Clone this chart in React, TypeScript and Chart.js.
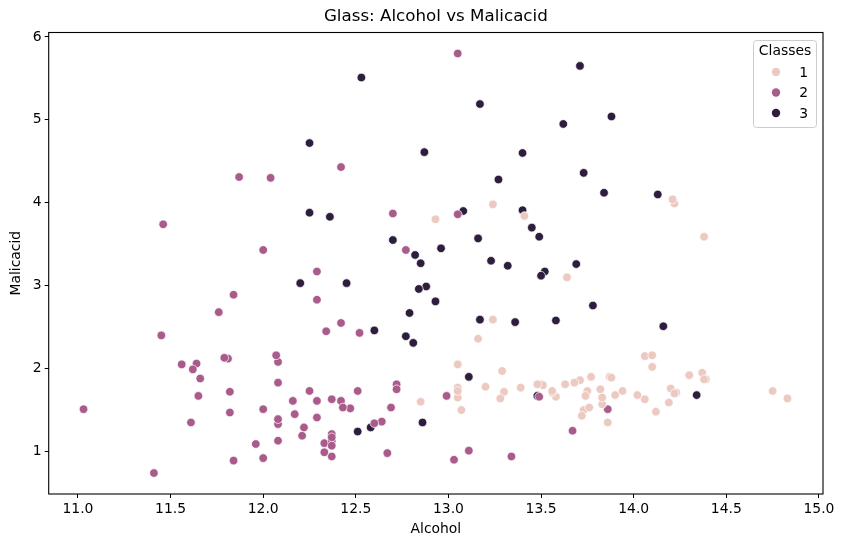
import { useEffect, useRef } from "react";
import { Chart, registerables, Plugin } from "chart.js";

Chart.register(...registerables);

const classLabels = ["1", "2", "3"];
const classColors = ["#ecc9c1", "#a95c8c", "#2d1e3e"];

const alcohol1 = [
  14.23, 13.2, 13.16, 14.37, 13.24, 14.2, 14.39, 14.06, 14.83, 13.86, 14.1, 14.12, 13.75, 14.75, 14.38,
  13.63, 14.3, 13.83, 14.19, 13.64, 14.06, 12.93, 13.71, 12.85, 13.5, 13.05, 13.39, 13.3, 13.87, 14.02,
  13.73, 13.58, 13.68, 13.76, 13.51, 13.48, 13.28, 13.05, 13.07, 14.22, 13.56, 13.41, 13.88, 13.24, 13.05,
  14.21, 14.38, 13.9, 14.1, 13.94, 13.05, 13.83, 13.82, 13.77, 13.74, 13.56, 14.22, 13.29, 13.72,
];
const malic1 = [
  1.71, 1.78, 2.36, 1.95, 2.59, 1.76, 1.87, 2.15, 1.64, 1.35, 2.16, 1.48, 1.73, 1.73, 1.87,
  1.81, 1.92, 1.57, 1.59, 3.1, 1.63, 3.8, 1.86, 1.6, 1.81, 2.05, 1.77, 1.72, 1.9, 1.68,
  1.5, 1.66, 1.83, 1.53, 1.8, 1.81, 1.64, 1.65, 1.5, 3.99, 1.71, 3.84, 1.89, 3.98, 1.77,
  4.04, 3.59, 1.68, 2.02, 1.73, 1.73, 1.65, 1.75, 1.9, 1.67, 1.73, 1.7, 1.97, 1.43,
];

const alcohol2 = [
  12.37, 12.33, 12.64, 13.67, 12.37, 12.17, 12.37, 13.11, 12.37, 13.34, 12.21, 12.29, 13.86, 13.49, 12.99,
  11.96, 11.66, 13.03, 11.84, 12.33, 12.7, 12.0, 12.72, 12.08, 13.05, 11.84, 12.67, 12.16, 11.65, 11.64,
  12.08, 12.08, 12.0, 12.69, 12.29, 11.62, 12.47, 11.81, 12.29, 12.37, 12.29, 12.08, 12.6, 12.34, 11.82,
  12.51, 12.42, 12.25, 12.72, 12.22, 11.61, 11.46, 12.52, 11.76, 11.41, 12.08, 11.03, 11.82, 12.42, 12.77,
  12.0, 11.45, 11.56, 12.42, 13.05, 11.87, 12.07, 12.43, 11.79, 12.37, 12.04,
];
const malic2 = [
  0.94, 1.1, 1.36, 1.25, 1.13, 1.45, 1.21, 1.01, 1.17, 0.94, 1.19, 1.61, 1.51, 1.66, 1.67,
  1.09, 1.88, 0.9, 2.89, 0.99, 3.87, 0.92, 1.81, 1.13, 3.86, 0.89, 0.98, 1.61, 1.67, 2.06,
  1.33, 1.83, 1.51, 1.53, 2.83, 1.99, 1.52, 2.12, 1.41, 1.07, 3.17, 2.08, 1.34, 2.45, 1.72,
  1.73, 2.55, 1.73, 1.75, 1.29, 1.35, 3.74, 2.43, 2.68, 0.74, 1.39, 1.51, 1.47, 1.61, 3.43,
  3.43, 2.4, 2.05, 4.43, 5.8, 4.31, 2.16, 1.53, 2.13, 1.63, 4.3,
];

const alcohol3 = [
  12.86, 12.88, 12.81, 12.7, 12.51, 12.6, 12.25, 12.53, 13.49, 12.84, 12.93, 13.36, 13.52, 13.62, 12.25,
  13.16, 13.88, 12.87, 13.32, 13.08, 13.5, 12.79, 13.11, 13.23, 12.58, 13.17, 13.84, 12.45, 14.34, 13.48,
  12.36, 13.69, 12.85, 12.96, 13.78, 13.73, 13.45, 12.82, 13.58, 13.4, 12.2, 12.77, 14.16, 13.71, 13.4,
  13.27, 13.17, 14.13,
];
const malic3 = [
  1.35, 2.99, 2.31, 3.55, 1.24, 2.46, 4.72, 5.51, 3.59, 2.96, 2.81, 2.56, 3.17, 4.95, 3.88,
  3.57, 5.04, 4.61, 3.24, 3.9, 3.12, 2.67, 1.9, 3.3, 1.29, 5.19, 4.12, 3.03, 1.68, 1.67,
  3.83, 3.26, 3.27, 3.45, 2.76, 4.36, 3.7, 3.37, 2.58, 4.6, 3.03, 2.39, 2.51, 5.65, 3.91,
  4.28, 2.59, 4.1,
];

const xTicks = [11.0, 11.5, 12.0, 12.5, 13.0, 13.5, 14.0, 14.5, 15.0];
const yTicks = [1, 2, 3, 4, 5, 6];

const FONT = "'DejaVu Sans', sans-serif";

function toPoints(xs: number[], ys: number[]) {
  return xs.map((x, i) => ({ x, y: ys[i] }));
}

const framePlugin: Plugin<"scatter"> = {
  id: "frame",
  afterDraw(chart) {
    const { ctx, chartArea: a } = chart;
    ctx.save();
    ctx.strokeStyle = "#000";
    ctx.lineWidth = 1.1;
    ctx.strokeRect(a.left, a.top, a.right - a.left, a.bottom - a.top);

    // title
    ctx.fillStyle = "#000";
    ctx.font = `16.7px ${FONT}`;
    ctx.textAlign = "center";
    ctx.textBaseline = "middle";
    ctx.fillText("Glass: Alcohol vs Malicacid", (a.left + a.right) / 2, 17);

    // legend
    const lx = 753;
    const ly = 40;
    const lw = 63;
    const lh = 87;
    ctx.fillStyle = "rgba(255,255,255,0.8)";
    ctx.strokeStyle = "#cccccc";
    ctx.lineWidth = 1;
    ctx.beginPath();
    ctx.roundRect(lx + 0.5, ly + 0.5, lw, lh, 3);
    ctx.fill();
    ctx.stroke();
    ctx.fillStyle = "#000";
    ctx.font = `13.9px ${FONT}`;
    ctx.textAlign = "center";
    ctx.fillText("Classes", lx + lw / 2 + 0.5, 51);
    classLabels.forEach((lab, i) => {
      const y = 72 + i * 20.5;
      ctx.beginPath();
      ctx.arc(776, y, 4.2, 0, Math.PI * 2);
      ctx.fillStyle = classColors[i];
      ctx.fill();
      ctx.fillStyle = "#000";
      ctx.textAlign = "right";
      ctx.fillText(lab, 808, y + 1);
    });
    ctx.restore();
  },
};

export default function App() {
  const canvasRef = useRef<HTMLCanvasElement | null>(null);
  const chartRef = useRef<Chart<"scatter"> | null>(null);

  useEffect(() => {
    document.body.style.margin = "0";
    const canvas = canvasRef.current;
    if (!canvas) {
      return;
    }

    const series = [
      toPoints(alcohol1, malic1),
      toPoints(alcohol2, malic2),
      toPoints(alcohol3, malic3),
    ];

    chartRef.current?.destroy();
    chartRef.current = new Chart(canvas, {
      type: "scatter",
      data: {
        datasets: series.map((data, i) => ({
          label: classLabels[i],
          data,
          backgroundColor: classColors[i],
          borderColor: "#ffffff",
          borderWidth: 0.7,
          pointRadius: 4.3,
        })),
      },
      options: {
        responsive: false,
        animation: false,
        layout: { padding: { top: 32.5, right: 21, left: 0, bottom: 0 } },
        plugins: {
          legend: { display: false },
          title: { display: false },
          tooltip: { enabled: false },
        },
        scales: {
          x: {
            type: "linear",
            min: 10.842,
            max: 15.022,
            afterBuildTicks: (scale) => {
              scale.ticks = xTicks.map((v) => ({ value: v }));
            },
            afterFit: (scale) => {
              scale.height = 53;
            },
            grid: {
              drawOnChartArea: false,
              tickLength: 4,
              color: "#000",
              tickColor: "#000",
            },
            border: { display: false },
            ticks: {
              color: "#000",
              font: { family: FONT, size: 13.9 },
              padding: 3,
              maxRotation: 0,
              callback: (v) => Number(v).toFixed(1),
            },
            title: {
              display: true,
              text: "Alcohol",
              color: "#000",
              font: { family: FONT, size: 13.9 },
              padding: { top: 4, bottom: 9 },
            },
          },
          y: {
            type: "linear",
            min: 0.487,
            max: 6.053,
            afterBuildTicks: (scale) => {
              scale.ticks = yTicks.map((v) => ({ value: v }));
            },
            afterFit: (scale) => {
              scale.width = 48.7;
            },
            grid: {
              drawOnChartArea: false,
              tickLength: 4,
              color: "#000",
              tickColor: "#000",
            },
            border: { display: false },
            ticks: {
              color: "#000",
              font: { family: FONT, size: 13.9 },
              padding: 3,
              callback: (v) => String(v),
            },
            title: {
              display: true,
              text: "Malicacid",
              color: "#000",
              font: { family: FONT, size: 13.9 },
              padding: { top: 8, bottom: 0 },
            },
          },
        },
      },
      plugins: [framePlugin],
    });

    return () => {
      chartRef.current?.destroy();
      chartRef.current = null;
    };
  }, []);

  return <canvas ref={canvasRef} width={844} height={547} style={{ display: "block" }} />;
}
